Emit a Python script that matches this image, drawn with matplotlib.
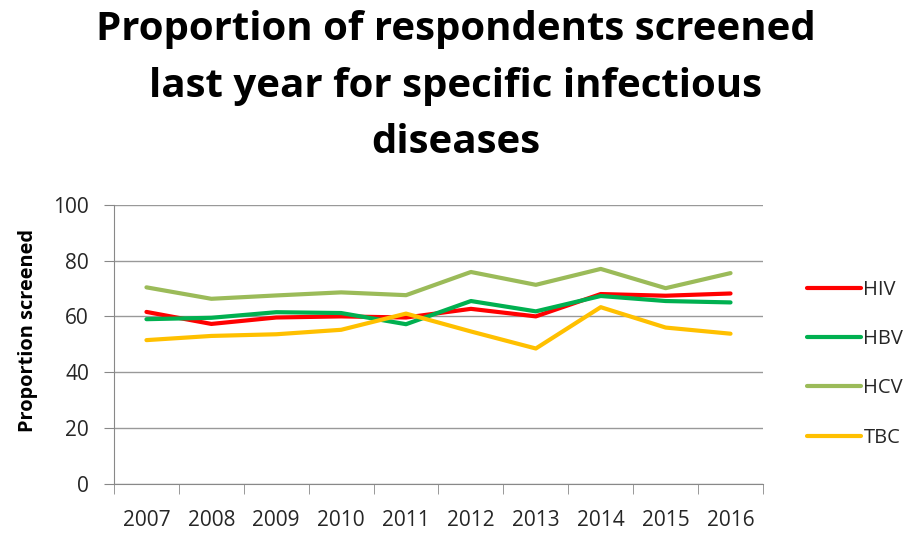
import numpy as np
import matplotlib.pyplot as plt
from matplotlib.ticker import FixedLocator

years = ["2007", "2008", "2009", "2010", "2011", "2012", "2013", "2014", "2015", "2016"]
hiv = [61.6, 57.3, 59.6, 60.0, 59.6, 62.7, 60.0, 68.0, 67.4, 68.2]
hbv = [59.0, 59.5, 61.5, 61.2, 57.2, 65.5, 61.8, 67.3, 65.5, 65.0]
hcv = [70.4, 66.3, 67.5, 68.6, 67.6, 75.9, 71.3, 77.0, 70.1, 75.5]
tbc = [51.5, 53.0, 53.6, 55.2, 61.0, 54.6, 48.5, 63.3, 56.0, 53.8]

series = [("HIV", hiv, "#FF0000"), ("HBV", hbv, "#00B050"),
          ("HCV", hcv, "#9BBB59"), ("TBC", tbc, "#FFC000")]

title_lines = ["Proportion of respondents screened",
               "last year for specific infectious",
               "diseases"]

plt.rcParams['font.family'] = ['Open Sans', 'DejaVu Sans']

fig = plt.figure(figsize=(9.12, 5.33), dpi=100)
ax = fig.add_axes([0.125, 0.092, 0.7116, 0.524])

x = np.arange(len(years))
for name, vals, col in series:
    ax.plot(x, vals, color=col, linewidth=3, label=name, solid_capstyle='round')

ax.set_xlim(-0.5, len(years) - 0.5)
ax.set_ylim(0, 100)
ax.set_yticks(range(0, 101, 20))
ax.set_xticks(x)
ax.set_xticklabels(years)
ax.xaxis.set_minor_locator(FixedLocator(np.arange(-0.5, len(years), 1.0)))
ax.tick_params(axis='x', which='major', length=0, pad=19, labelsize=15, labelcolor='#262626')
ax.tick_params(axis='x', which='minor', length=7, color='#888888', direction='out')
ax.tick_params(axis='y', length=7, color='#888888', labelsize=15, labelcolor='#262626', pad=11)

ax.grid(axis='y', color='#999999', linewidth=1)
ax.set_axisbelow(True)
for s in ['top', 'right']:
    ax.spines[s].set_visible(False)
for s in ['left', 'bottom']:
    ax.spines[s].set_color('#888888')

ax.set_ylabel("Proportion screened", fontsize=14.4, fontweight='bold')
ax.yaxis.set_label_coords(-0.117, 0.551)

# title, one text per line
for i, line in enumerate(title_lines):
    fig.text(0.5, 1 - (40 + 56.5 * i) / 533, line, ha='center', va='baseline',
             fontsize=29, fontweight='bold')

leg = ax.legend(loc='center left', bbox_to_anchor=(1.04, 0.43), frameon=False,
                fontsize=14.5, handlelength=2.7, handletextpad=0.1, labelspacing=1.45)
for t in leg.get_texts():
    t.set_color('#262626')

fig.savefig("out.png", dpi=100)
